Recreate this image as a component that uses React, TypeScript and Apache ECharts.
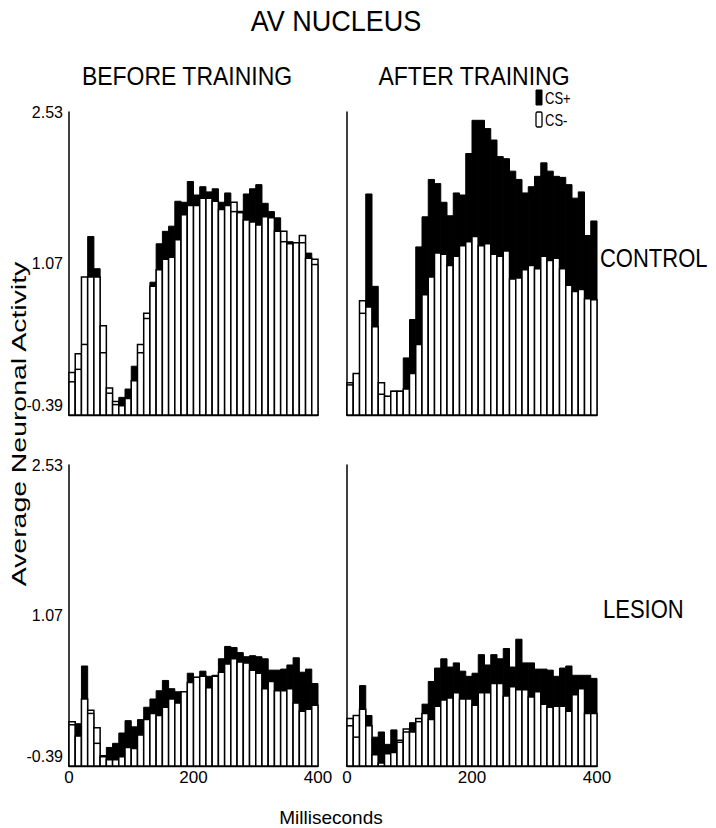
import React, { useEffect, useRef } from 'react';
import * as echarts from 'echarts';

// Bin start times (ms), 10 ms bins
const binStarts = [0, 10, 20, 30, 40, 50, 60, 70, 80, 90, 100, 110, 120, 130, 140, 150, 160, 170, 180, 190,
  200, 210, 220, 230, 240, 250, 260, 270, 280, 290, 300, 310, 320, 330, 340, 350, 360, 370, 380, 390];
const BIN_WIDTH = 10;
const Y_MIN = -0.39;
const Y_MAX = 2.53;
const yTicks = [-0.39, 1.07, 2.53];
const xTicks = [0, 200, 400];

// CONTROL, before training
const beforeControlCSplus = [-0.07, 0.05, 0.29, 1.33, 1.02, 0.21, -0.18, -0.29, -0.22, -0.14, 0.08, 0.21, 0.54, 0.89, 1.26, 1.38, 1.43, 1.67, 1.66, 1.86,
  1.73, 1.81, 1.76, 1.79, 1.66, 1.75, 1.57, 1.56, 1.74, 1.79, 1.83, 1.65, 1.57, 1.51, 1.28, 1.28, 1.27, 1.27, 1.17, 1.06];
const beforeControlCSminus = [0.02, 0.20, 0.94, 0.94, 0.94, 0.47, -0.13, -0.26, -0.30, -0.23, -0.06, 0.29, 0.59, 0.85, 1.01, 1.11, 1.13, 1.30, 1.54, 1.63,
  1.63, 1.70, 1.70, 1.67, 1.59, 1.63, 1.66, 1.57, 1.49, 1.47, 1.44, 1.52, 1.51, 1.38, 1.38, 1.26, 1.27, 1.34, 1.12, 1.11];

// CONTROL, after training
const afterControlCSplus = [-0.10, 0.01, 0.59, 1.74, 0.85, -0.19, -0.21, -0.16, -0.16, 0.16, 0.53, 1.23, 1.52, 1.88, 1.84, 1.66, 1.53, 1.75, 1.73, 2.13,
  2.45, 2.45, 2.37, 2.26, 2.10, 2.08, 1.96, 1.88, 1.75, 1.81, 1.91, 2.04, 1.96, 1.91, 1.90, 1.83, 1.70, 1.76, 1.34, 1.48];
const afterControlCSminus = [-0.08, 0.01, 0.71, 0.65, 0.46, -0.08, -0.21, -0.16, -0.16, -0.14, 0.01, 0.29, 0.77, 0.94, 1.17, 1.16, 1.05, 1.14, 1.24, 1.28,
  1.33, 1.24, 1.26, 1.16, 1.14, 1.19, 0.92, 0.93, 1.01, 1.05, 1.02, 1.14, 1.10, 1.12, 1.02, 0.86, 0.80, 0.82, 0.73, 0.72];

// LESION, before training
const beforeLesionCSplus = [0.01, 0.02, 0.58, 0.12, -0.17, -0.30, -0.21, -0.17, -0.07, 0.05, -0.01, 0.06, 0.18, 0.26, 0.34, 0.44, 0.36, 0.33, 0.33, 0.51,
  0.47, 0.53, 0.48, 0.49, 0.65, 0.77, 0.76, 0.71, 0.67, 0.68, 0.67, 0.65, 0.54, 0.54, 0.55, 0.59, 0.66, 0.52, 0.55, 0.41];
const beforeLesionCSminus = [0.04, -0.10, 0.26, 0.15, -0.02, -0.29, -0.33, -0.33, -0.30, -0.21, -0.22, -0.09, 0.06, 0.12, 0.10, 0.18, 0.26, 0.22, 0.33, 0.42,
  0.47, 0.48, 0.37, 0.48, 0.52, 0.60, 0.65, 0.62, 0.61, 0.54, 0.51, 0.36, 0.43, 0.34, 0.34, 0.36, 0.22, 0.14, 0.16, 0.20];

// LESION, after training
const afterLesionCSplus = [0.00, -0.11, 0.39, 0.10, -0.11, -0.06, -0.18, -0.04, -0.16, -0.06, 0.03, 0.04, 0.21, 0.43, 0.56, 0.65, 0.57, 0.61, 0.53, 0.48,
  0.51, 0.69, 0.59, 0.69, 0.65, 0.75, 0.57, 0.84, 0.61, 0.61, 0.55, 0.55, 0.54, 0.48, 0.56, 0.58, 0.49, 0.49, 0.49, 0.46];
const afterLesionCSminus = [0.07, 0.10, 0.16, 0.00, -0.28, -0.36, -0.27, -0.26, -0.14, -0.03, -0.06, 0.07, 0.12, 0.06, 0.19, 0.25, 0.27, 0.32, 0.26, 0.26,
  0.20, 0.32, 0.32, 0.41, 0.41, 0.29, 0.38, 0.35, 0.35, 0.28, 0.33, 0.21, 0.18, 0.19, 0.19, 0.14, 0.30, 0.36, 0.12, 0.12];

const FONT = '"Liberation Sans", Arial, Helvetica, sans-serif';

const panels = [
  { plus: beforeControlCSplus, minus: beforeControlCSminus, left: 69, top: 112, width: 249, height: 303, yLabels: true, xLabels: false },
  { plus: afterControlCSplus, minus: afterControlCSminus, left: 347, top: 112, width: 250, height: 303, yLabels: false, xLabels: false },
  { plus: beforeLesionCSplus, minus: beforeLesionCSminus, left: 69, top: 465, width: 249, height: 301, yLabels: true, xLabels: true },
  { plus: afterLesionCSplus, minus: afterLesionCSminus, left: 347, top: 465, width: 250, height: 301, yLabels: false, xLabels: true },
];

function renderBin(params: any, api: any) {
  const x0 = api.value(0);
  const plus = api.value(1);
  const minus = api.value(2);
  const base = api.coord([x0, Y_MIN]);
  const pPlus = api.coord([x0, plus]);
  const pMinus = api.coord([x0, minus]);
  const w = api.size([BIN_WIDTH, 0])[0];
  const left = base[0];
  const children: any[] = [];
  children.push({
    type: 'rect',
    shape: { x: left, y: pPlus[1], width: w, height: base[1] - pPlus[1] },
    style: { fill: '#000', stroke: '#000', lineWidth: 1 },
  });
  children.push({
    type: 'rect',
    shape: { x: left, y: pMinus[1], width: w, height: base[1] - pMinus[1] },
    style: { fill: '#fff', stroke: '#000', lineWidth: 1.5 },
  });
  if (plus < minus) {
    children.push({
      type: 'line',
      shape: { x1: left, y1: pPlus[1], x2: left + w, y2: pPlus[1] },
      style: { stroke: '#000', lineWidth: 1.5 },
    });
  }
  return { type: 'group', children };
}

function text(t: string, x: number, y: number, size: number, opts: any = {}) {
  return {
    type: 'text',
    x,
    y,
    rotation: opts.rotation || 0,
    scaleX: opts.scaleX || 1,
    scaleY: opts.scaleY || 1,
    style: {
      text: t,
      x: 0,
      y: 0,
      fill: '#000',
      fontSize: size,
      fontFamily: FONT,
      align: opts.align || 'center',
      verticalAlign: 'middle',
    },
  };
}

export default function App() {
  const ref = useRef<HTMLDivElement>(null);

  useEffect(() => {
    if (!ref.current) return;
    const chart = echarts.init(ref.current, undefined, { renderer: 'svg' });

    const grid = panels.map((p) => ({ left: p.left, top: p.top, width: p.width, height: p.height, containLabel: false }));
    const xAxis = panels.map((p, i) => ({
      type: 'value',
      gridIndex: i,
      min: 0,
      max: 400,
      axisLine: { show: true, onZero: false, lineStyle: { color: '#000', width: 1.3 } },
      axisTick: { show: false },
      splitLine: { show: false },
      axisLabel: {
        show: p.xLabels,
        customValues: xTicks,
        color: '#000',
        fontSize: 17,
        fontFamily: FONT,
        margin: 3,
      },
    }));
    const yAxis = panels.map((p, i) => ({
      type: 'value',
      gridIndex: i,
      min: Y_MIN,
      max: Y_MAX,
      axisLine: { show: true, onZero: false, lineStyle: { color: '#000', width: 1.5 } },
      axisTick: { show: false },
      splitLine: { show: false },
      axisLabel: {
        show: p.yLabels,
        customValues: yTicks,
        margin: 6,
        formatter: (v: number) => (v < 0 ? `{low|${v.toFixed(2)}}` : `{n|${v.toFixed(2)}}`),
        rich: {
          n: { color: '#000', fontSize: 16, fontFamily: FONT },
          low: { color: '#000', fontSize: 16, fontFamily: FONT, padding: [0, 0, 20, 0] },
        },
      },
    }));
    const series = panels.map((p, i) => ({
      type: 'custom',
      xAxisIndex: i,
      yAxisIndex: i,
      renderItem: renderBin,
      encode: { x: 0, y: [1, 2] },
      clip: false,
      data: binStarts.map((b, k) => [b, p.plus[k], p.minus[k]]),
    }));

    const graphic = [
      text('AV NUCLEUS', 336, 21, 27, { scaleY: 1.1 }),
      text('BEFORE TRAINING', 187, 76, 23, { scaleY: 1.1 }),
      text('AFTER TRAINING', 474, 76, 23, { scaleY: 1.1 }),
      text('CONTROL', 600, 258, 22, { align: 'left', scaleY: 1.15 }),
      text('LESION', 603, 609, 22, { align: 'left', scaleY: 1.15 }),
      text('Milliseconds', 331, 817, 19),
      text('Average Neuronal Activity', 19, 424, 20, { rotation: Math.PI / 2, scaleX: 1.42 }),
      {
        type: 'rect',
        shape: { x: 536, y: 90, width: 6, height: 15 },
        style: { fill: '#000', stroke: '#000', lineWidth: 1 },
      },
      {
        type: 'rect',
        shape: { x: 536, y: 112, width: 6, height: 15, r: 1.5 },
        style: { fill: '#fff', stroke: '#000', lineWidth: 1.3 },
      },
      text('CS+', 545, 98, 13, { align: 'left', scaleY: 1.25 }),
      text('CS-', 545, 120, 13, { align: 'left', scaleY: 1.25 }),
    ];

    chart.setOption({
      animation: false,
      backgroundColor: '#fff',
      grid,
      xAxis,
      yAxis,
      series,
      graphic,
    });

    return () => chart.dispose();
  }, []);

  return (
    <div
      ref={ref}
      style={{ position: 'fixed', left: 0, top: 0, width: 716, height: 828, background: '#fff' }}
    />
  );
}
